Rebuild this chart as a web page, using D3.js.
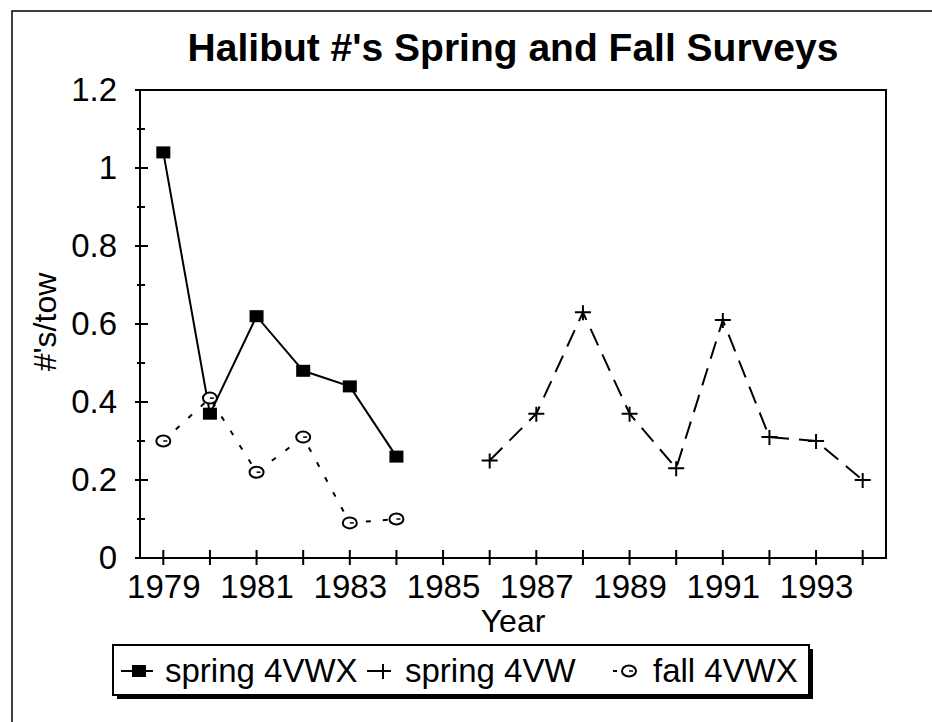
<!DOCTYPE html>
<html>
<head>
<meta charset="utf-8">
<script src="https://cdnjs.cloudflare.com/ajax/libs/d3/7.8.5/d3.min.js"></script>
<style>
  body { margin: 0; background: #fff; }
  svg { display: block; font-family: 'Liberation Sans', Arial, Helvetica, sans-serif; }
</style>
</head>
<body>
<div id="graph"></div>
<script>
var yearsA = [1979, 1980, 1981, 1982, 1983, 1984]
var spring4VWX = [1.04, 0.37, 0.62, 0.48, 0.44, 0.26]
var fall4VWX = [0.30, 0.41, 0.22, 0.31, 0.09, 0.10]
var yearsB = [1986, 1987, 1988, 1989, 1990, 1991, 1992, 1993, 1994]
var spring4VW = [0.25, 0.37, 0.63, 0.37, 0.23, 0.61, 0.31, 0.30, 0.20]

var yTicks = [0, 0.2, 0.4, 0.6, 0.8, 1, 1.2]
var yMinor = [0.1, 0.3, 0.5, 0.7, 0.9, 1.1]
var xTicks = d3.range(1979, 1995)
var xLabels = [1979, 1981, 1983, 1985, 1987, 1989, 1991, 1993]
var legendNames = ['spring 4VWX', 'spring 4VW', 'fall 4VWX']

var W = 932, H = 722
var svg = d3.select('#graph').append('svg')
  .attr('width', W)
  .attr('height', H)

// outer frame, only left and top edges fall inside the picture
svg.append('path')
  .attr('d', 'M12,730V11H940')
  .attr('fill', 'none')
  .attr('stroke', '#000')
  .attr('stroke-width', 1.5)

var x = d3.scaleLinear().domain([1978.5, 1994.5]).range([140, 886])
var y = d3.scaleLinear().domain([0, 1.2]).range([558, 90])

svg.append('text')
  .attr('x', 513)
  .attr('y', 61)
  .attr('text-anchor', 'middle')
  .attr('font-size', 39)
  .attr('font-weight', 'bold')
  .text("Halibut #'s Spring and Fall Surveys")

// plot box
svg.append('rect')
  .attr('x', 140).attr('y', 90)
  .attr('width', 746).attr('height', 468)
  .attr('fill', 'none')
  .attr('stroke', '#000')
  .attr('stroke-width', 2)

// y axis: ticks cross the axis line
var yAxis = d3.axisLeft(y).tickValues(yTicks).tickSize(0).tickPadding(23)
  .tickFormat(d3.format('~g'))
var gy = svg.append('g').attr('transform', 'translate(140,0)').call(yAxis)
gy.select('.domain').remove()
gy.selectAll('text').attr('font-size', 33).attr('font-family', null)
gy.selectAll('.major').data(yTicks).enter().append('line')
  .attr('x1', -5).attr('x2', 8)
  .attr('y1', d => y(d)).attr('y2', d => y(d))
  .attr('stroke', '#000').attr('stroke-width', 2)
gy.selectAll('.minor').data(yMinor).enter().append('line')
  .attr('x1', -3).attr('x2', 5)
  .attr('y1', d => y(d)).attr('y2', d => y(d))
  .attr('stroke', '#000').attr('stroke-width', 2)

// x axis: a tick every year, labels on odd years
var xAxis = d3.axisBottom(x).tickValues(xLabels).tickSize(0).tickPadding(17)
  .tickFormat(d3.format('d'))
var gx = svg.append('g').attr('transform', 'translate(0,558)').call(xAxis)
gx.select('.domain').remove()
gx.selectAll('text').attr('font-size', 33).attr('font-family', null)
gx.selectAll('.tk').data(xTicks).enter().append('line')
  .attr('x1', d => x(d)).attr('x2', d => x(d))
  .attr('y1', -8).attr('y2', 7)
  .attr('stroke', '#000').attr('stroke-width', 2)

svg.append('text')
  .attr('x', 513).attr('y', 632)
  .attr('text-anchor', 'middle')
  .attr('font-size', 32)
  .text('Year')

svg.append('text')
  .attr('transform', 'translate(56,322) rotate(-90)')
  .attr('text-anchor', 'middle')
  .attr('font-size', 32)
  .text("#'s/tow")

var line = d3.line().x(d => x(d[0])).y(d => y(d[1]))
var sA = yearsA.map((yr, i) => [yr, spring4VWX[i]])
var fA = yearsA.map((yr, i) => [yr, fall4VWX[i]])
var sB = yearsB.map((yr, i) => [yr, spring4VW[i]])

svg.append('path').datum(fA).attr('d', line)
  .attr('fill', 'none').attr('stroke', '#000').attr('stroke-width', 2)
  .attr('stroke-dasharray', '5,12')
svg.append('path').datum(sB).attr('d', line)
  .attr('fill', 'none').attr('stroke', '#000').attr('stroke-width', 2)
  .attr('stroke-dasharray', '18,10')
svg.append('path').datum(sA).attr('d', line)
  .attr('fill', 'none').attr('stroke', '#000').attr('stroke-width', 2)

function circleMark(sel) {
  sel.append('ellipse').attr('rx', 7).attr('ry', 5.5)
    .attr('fill', '#fff').attr('stroke', '#000').attr('stroke-width', 2)
  sel.append('line').attr('x1', 0).attr('x2', 4).attr('y1', 0).attr('y2', 0)
    .attr('stroke', '#000').attr('stroke-width', 1.5)
}
function squareMark(sel) {
  sel.append('rect').attr('x', -7).attr('y', -6).attr('width', 14).attr('height', 12)
    .attr('fill', '#000')
}
function plusMark(sel) {
  sel.append('path').attr('d', 'M-8,0H8M0,-7V8')
    .attr('stroke', '#000').attr('stroke-width', 2)
}

svg.selectAll('.fa').data(fA).enter().append('g')
  .attr('transform', d => 'translate(' + x(d[0]) + ',' + y(d[1]) + ')')
  .call(circleMark)
svg.selectAll('.sb').data(sB).enter().append('g')
  .attr('transform', d => 'translate(' + x(d[0]) + ',' + y(d[1]) + ')')
  .call(plusMark)
svg.selectAll('.sa').data(sA).enter().append('g')
  .attr('transform', d => 'translate(' + x(d[0]) + ',' + y(d[1]) + ')')
  .call(squareMark)

// legend with drop shadow
var lg = svg.append('g').attr('transform', 'translate(113,645)')
lg.append('rect').attr('x', 4).attr('y', 4).attr('width', 696).attr('height', 50).attr('fill', '#000')
lg.append('rect').attr('x', 0).attr('y', 0).attr('width', 696).attr('height', 50)
  .attr('fill', '#fff').attr('stroke', '#000').attr('stroke-width', 2)

var itemX = [8, 254, 496]
var lineLen = [32, 24, 30]
var markAt = [18, 16, 20]
var textAt = [44, 38, 44]
var markers = [squareMark, plusMark, circleMark]
legendNames.forEach(function(name, i) {
  var it = lg.append('g').attr('transform', 'translate(' + itemX[i] + ',26)')
  it.append('line').attr('x1', i == 2 ? 4 : 0).attr('x2', lineLen[i])
    .attr('stroke', '#000').attr('stroke-width', 2)
    .attr('stroke-dasharray', i == 2 ? '4,30' : null)
  it.append('g').attr('transform', 'translate(' + markAt[i] + ',0)').call(markers[i])
  it.append('text').attr('x', textAt[i]).attr('y', 11).attr('font-size', 33).text(name)
})
</script>
</body>
</html>
